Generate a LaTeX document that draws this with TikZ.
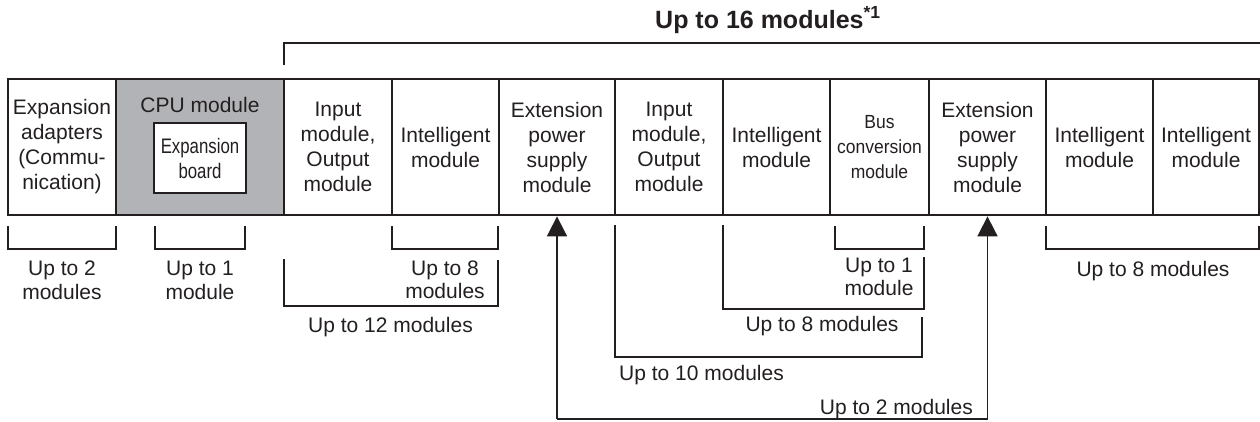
\documentclass[tikz,border=0pt]{standalone}
\usepackage{fontspec}
\usepackage{graphicx}
\setmainfont{Liberation Sans}
\usetikzlibrary{arrows.meta,calc}
\definecolor{ink}{RGB}{35,31,32}
\definecolor{cpugray}{RGB}{178,179,183}
\newcommand{\sqzb}[1]{\scalebox{0.8}[1]{#1}}
\newcommand{\sqzc}[1]{\scalebox{0.92}[1]{#1}}
\begin{document}
\begin{tikzpicture}[x=1pt,y=-1pt,
  mod/.style={draw=ink, line width=2.8pt, rectangle, inner sep=0pt, minimum height=136pt,
    align=center, text=ink, font=\fontsize{21}{25}\selectfont},
  narrowtxt/.style={font=\fontsize{19}{25}\selectfont},
  lbl/.style={text=ink, font=\fontsize{21}{24}\selectfont, inner sep=0pt},
  brk/.style={draw=ink, line width=1.8pt},
  tip/.style={-{Triangle[width=20pt,length=20pt]}}]
\useasboundingbox (0,0) rectangle (1260,421);

% title and top bracket
\node[text=ink, font=\bfseries\fontsize{25}{30}\selectfont, anchor=base west, inner sep=0pt] (title) at (655,28) {Up to 16 modules\textsuperscript{*1}};
\coordinate (t1) at (284,65);
\coordinate (t2) at (284,43);
\coordinate (t3) at (1262,43);
\draw[brk] (t1) -- (t2) -- (t3);

% modules
\node[mod, fill=cpugray, minimum width=168pt] (cpu) at (200,147) {};
\node[mod, minimum width=108pt] (m1) at (62,147) {Expansion\\adapters\\(Commu-\\nication)};
\node[mod, minimum width=108pt] (m3) at (338,147) {Input\\module,\\Output\\module};
\node[mod, minimum width=107pt] (m4) at (445.5,147) {Intelligent\\module};
\node[mod, minimum width=116pt] (m5) at (557,147) {Extension\\power\\supply\\module};
\node[mod, minimum width=108pt] (m6) at (669,147) {Input\\module,\\Output\\module};
\node[mod, minimum width=107pt] (m7) at (776.5,147) {Intelligent\\module};
\node[mod, minimum width=99pt, narrowtxt] (m8) at (879.5,147) {\sqzc{Bus}\\\sqzc{conversion}\\\sqzc{module}};
\node[mod, minimum width=117pt] (m9) at (987.5,147) {Extension\\power\\supply\\module};
\node[mod, minimum width=107pt] (m10) at (1099.5,147) {Intelligent\\module};
\node[mod, minimum width=106pt] (m11) at (1206,147) {Intelligent\\module};

\node[text=ink, font=\fontsize{21}{25}\selectfont, anchor=base, inner sep=0pt] (cpulbl) at (200,112) {CPU module};
\node[draw=ink, line width=2.8pt, fill=white, minimum width=92pt, minimum height=70pt, inner sep=0pt,
  align=center, text=ink, font=\fontsize{21}{25}\selectfont] (board) at (200,158) {\sqzb{Expansion}\\\sqzb{board}};

% short brackets
\draw[brk] (8,226) -- (8,249) -- (116,249) -- (116,226);
\draw[brk] (155,226) -- (155,249) -- (245,249) -- (245,226);
\draw[brk] (392,226) -- (392,249) -- (498,249) -- (498,226);
\draw[brk] (835,226) -- (835,249) -- (924,249) -- (924,226);
\draw[brk] (1046,226) -- (1046,249) -- (1259,249) -- (1259,226);
% longer brackets
\draw[brk] (284,259) -- (284,306) -- (498,306) -- (498,260);
\draw[brk] (723,225) -- (723,309) -- (924,309) -- (924,257);
\draw[brk] (615,225) -- (615,357) -- (922,357) -- (922,317);

% arrow
\coordinate (arrbot) at (770,419);
\draw[brk, tip] (m5.south |- arrbot) -- (m5.south);
\draw[brk, tip] (m5.south |- arrbot) -- (m9.south |- arrbot) -- (m9.south);

% labels
\node[lbl, anchor=base] (a1) at (62,275) {Up to 2};
\node[lbl, anchor=base] (a2) at (62,299) {modules};
\node[lbl, anchor=base] (b1) at (200,275) {Up to 1};
\node[lbl, anchor=base] (b2) at (200,299) {module};
\node[lbl, anchor=base] (c1) at (445,275) {Up to 8};
\node[lbl, anchor=base] (c2) at (445,298) {modules};
\node[lbl, anchor=base west] (d1) at (308,332) {Up to 12 modules};
\node[lbl, anchor=base] (e1) at (879,272) {Up to 1};
\node[lbl, anchor=base] (e2) at (879,295) {module};
\node[lbl, anchor=base] (f1) at (822,331) {Up to 8 modules};
\node[lbl, anchor=base west] (g1) at (619,380) {Up to 10 modules};
\node[lbl, anchor=base east] (h1) at (973,414) {Up to 2 modules};
\node[lbl, anchor=base] (k1) at (1153,276) {Up to 8 modules};
\end{tikzpicture}
\end{document}
